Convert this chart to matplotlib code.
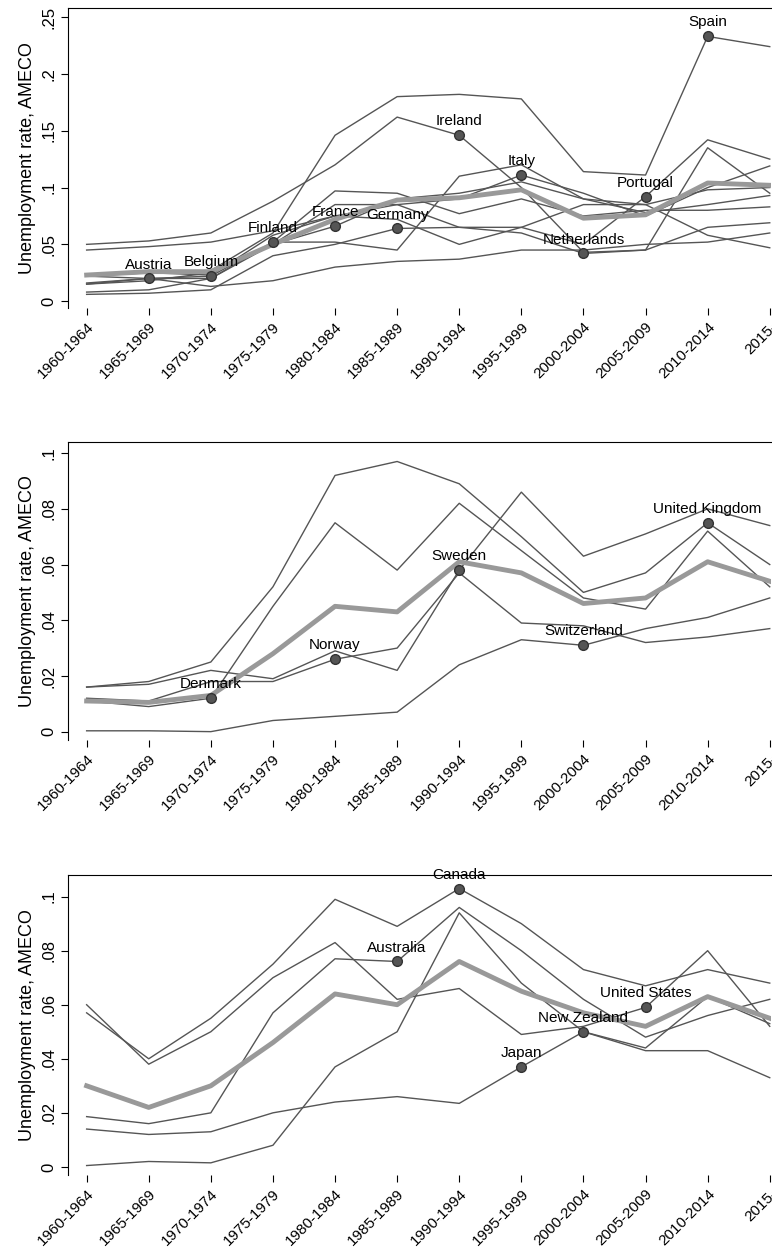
import matplotlib
matplotlib.use("Agg")
import matplotlib.pyplot as plt

plt.rcParams['font.family'] = ['Liberation Sans', 'DejaVu Sans']

periods = ["1960-1964", "1965-1969", "1970-1974", "1975-1979", "1980-1984", "1985-1989",
           "1990-1994", "1995-1999", "2000-2004", "2005-2009", "2010-2014", "2015-"]

# panel 1: continental Europe
g1 = {
    "Austria":     [.016, .020, .013, .018, .030, .035, .037, .045, .045, .050, .052, .060],
    "Belgium":     [.022, .020, .022, .052, .097, .095, .077, .090, .075, .080, .080, .083],
    "Finland":     [.015, .020, .020, .052, .052, .045, .110, .120, .090, .078, .085, .093],
    "France":      [.015, .018, .025, .050, .066, .090, .095, .105, .090, .085, .098, .100],
    "Germany":     [.006, .007, .010, .040, .050, .064, .065, .065, .085, .085, .058, .047],
    "Ireland":     [.050, .053, .060, .088, .120, .162, .146, .100, .043, .045, .135, .095],
    "Italy":       [.045, .048, .052, .062, .075, .085, .090, .111, .095, .075, .100, .119],
    "Netherlands": [.008, .010, .020, .050, .085, .085, .065, .060, .042, .045, .065, .069],
    "Portugal":    [.023, .025, .023, .058, .075, .072, .050, .065, .050, .092, .142, .125],
    "Spain":       [.022, .025, .027, .060, .146, .180, .182, .178, .114, .111, .233, .224],
}
mean1 = [.023, .026, .026, .050, .072, .089, .091, .098, .073, .076, .104, .102]
lab1 = {"Austria": 1, "Belgium": 2, "Finland": 3, "France": 4, "Germany": 5, "Ireland": 6,
        "Italy": 7, "Netherlands": 8, "Portugal": 9, "Spain": 10}

# panel 2: Nordic + UK + Switzerland
g2 = {
    "Denmark":        [.011, .009, .012, .045, .075, .058, .082, .065, .048, .044, .072, .052],
    "Norway":         [.012, .011, .018, .018, .026, .030, .057, .039, .038, .032, .034, .037],
    "Sweden":         [.016, .017, .022, .019, .029, .022, .058, .086, .063, .071, .080, .074],
    "Switzerland":    [.0003, .0003, 0.0, .004, .0055, .007, .024, .033, .031, .037, .041, .048],
    "United Kingdom": [.016, .018, .025, .052, .092, .097, .089, .070, .050, .057, .075, .060],
}
mean2 = [.011, .0105, .013, .028, .045, .043, .061, .057, .046, .048, .061, .054]
lab2 = {"Denmark": 2, "Norway": 4, "Sweden": 6, "Switzerland": 8, "United Kingdom": 10}

# panel 3: non-European
g3 = {
    "Australia":     [.0186, .016, .020, .057, .077, .076, .096, .080, .062, .048, .056, .062],
    "Canada":        [.057, .040, .055, .075, .099, .089, .103, .090, .073, .067, .073, .068],
    "Japan":         [.014, .012, .013, .020, .024, .026, .0235, .037, .050, .043, .043, .033],
    "New Zealand":   [.0005, .002, .0015, .008, .037, .050, .094, .068, .050, .044, .063, .053],
    "United States": [.060, .038, .050, .070, .083, .062, .066, .049, .052, .059, .080, .052],
}
mean3 = [.030, .022, .030, .046, .064, .060, .076, .065, .057, .052, .063, .055]
lab3 = {"Australia": 5, "Canada": 6, "Japan": 7, "New Zealand": 8, "United States": 9}

fig = plt.figure(figsize=(7.72, 12.54), dpi=100)
H = 12.54 * 100
boxes = [(8, 308), (442, 740), (875, 1175)]
panels = [(g1, mean1, lab1, [0, .05, .1, .15, .2, .25], ["0", ".05", ".1", ".15", ".2", ".25"], (-0.006, 0.258)),
          (g2, mean2, lab2, [0, .02, .04, .06, .08, .1], ["0", ".02", ".04", ".06", ".08", ".1"], (-0.003, 0.104)),
          (g3, mean3, lab3, [0, .02, .04, .06, .08, .1], ["0", ".02", ".04", ".06", ".08", ".1"], (-0.003, 0.108))]

x = list(range(len(periods)))
for (top, bot), (g, mean, lab, yt, ytl, ylim) in zip(boxes, panels):
    ax = fig.add_axes([68 / 772, 1 - bot / H, (771 - 68) / 772, (bot - top) / H])
    for name, v in g.items():
        ax.plot(x, v, color="#555555", lw=1.0, zorder=2)
    ax.plot(x, mean, color="#999999", lw=3.5, zorder=3)
    for name, i in lab.items():
        ax.plot(x[i], g[name][i], "o", ms=7, mfc="#555555", mec="#333333", zorder=4)
        ax.annotate(name, (x[i], g[name][i]), xytext=(0, 5), textcoords="offset points",
                    ha="center", va="bottom", fontsize=11, zorder=5)
    ax.set_xlim(-0.3, 11.02)
    ax.set_ylim(*ylim)
    ax.set_yticks(yt)
    ax.set_yticklabels(ytl, rotation=90, va="center", fontsize=12)
    ax.set_xticks(x)
    ax.set_xticklabels(periods, rotation=45, ha="right", rotation_mode="anchor", fontsize=11)
    ax.set_ylabel("Unemployment rate, AMECO", fontsize=13)
    ax.spines["right"].set_visible(False)
    ax.spines["bottom"].set_visible(False)
    ax.tick_params(direction="out", length=5)

fig.savefig("out.png", dpi=100)
